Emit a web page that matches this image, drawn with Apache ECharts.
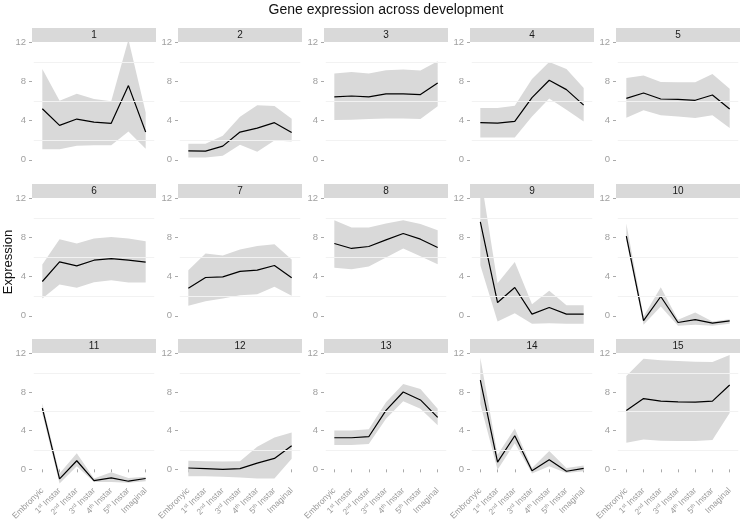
<!DOCTYPE html>
<html><head><meta charset="utf-8">
<script src="https://cdn.jsdelivr.net/npm/echarts@6/dist/echarts.min.js"></script>
<style>html,body{margin:0;padding:0;background:#fff}#c{width:742px;height:523px}</style>
</head><body><div id="c"></div>
<script>
const categories = ['Embronyic','1st Instar','2nd Instar','3rd Instar','4th Instar','5th Instar','Imaginal'];
const panelNames = ['1','2','3','4','5','6','7','8','9','10','11','12','13','14','15'];
const yTickValues = [0, 4, 8, 12];

const meanValues = [
  [5.23,3.52,4.17,3.86,3.73,7.59,2.84],
  [0.92,0.89,1.40,2.84,3.25,3.80,2.80],
  [6.43,6.53,6.43,6.74,6.74,6.67,7.86],
  [3.80,3.76,3.93,6.36,8.14,7.18,5.60],
  [6.29,6.84,6.22,6.19,6.09,6.63,5.20],
  [3.51,5.52,5.11,5.69,5.86,5.69,5.49],
  [2.83,3.92,3.99,4.55,4.67,5.15,3.89],
  [7.40,6.89,7.09,7.77,8.42,7.84,6.99],
  [9.61,1.36,2.90,0.17,0.85,0.17,0.17],
  [8.15,-0.48,1.98,-0.68,-0.38,-0.75,-0.51],
  [6.34,-0.99,0.89,-1.16,-0.89,-1.23,-0.95],
  [0.14,0.07,0.00,0.07,0.65,1.13,2.45],
  [3.27,3.27,3.38,6.10,8.01,7.19,5.39],
  [9.24,0.75,3.48,-0.14,0.99,-0.20,0.10],
  [6.10,7.33,7.06,6.99,6.96,7.06,8.73]
];
const upperValues = [
  [9.3,6.05,6.77,6.22,6.0,12.3,4.85],
  [1.64,1.64,2.46,4.4,5.57,5.5,4.2],
  [8.82,8.99,8.82,9.16,9.23,9.13,10.09],
  [5.3,5.3,5.54,8.27,10.0,9.3,7.35],
  [8.38,8.62,7.97,7.93,7.93,8.79,7.28],
  [5.25,7.84,7.4,7.91,8.05,7.91,7.64],
  [4.67,6.38,6.17,6.78,7.13,7.33,5.76],
  [9.78,9.03,9.03,9.44,9.78,9.38,8.76],
  [14.5,3.34,5.5,1.19,2.56,1.09,1.09],
  [9.44,-0.07,2.93,-0.41,0.34,-0.58,-0.34],
  [6.85,-0.44,1.67,-0.95,-0.31,-0.89,-0.78],
  [0.89,0.85,0.82,0.85,2.35,3.3,3.82],
  [4.02,4.02,4.16,6.95,8.83,8.32,6.27],
  [11.56,1.5,4.23,0.14,1.91,0.14,0.41],
  [9.68,11.46,11.29,11.22,11.15,11.11,11.83]
];
const lowerValues = [
  [1.09,1.09,1.44,1.5,1.5,2.9,1.13],
  [0.24,0.24,0.41,1.54,0.82,1.98,1.88],
  [4.07,4.1,4.17,4.24,4.24,4.17,5.47],
  [2.29,2.29,2.29,4.44,6.26,5.13,3.93],
  [4.31,5.06,4.55,4.44,4.27,4.55,3.25],
  [1.77,3.2,2.86,3.44,3.65,3.41,3.41],
  [1.02,1.5,1.77,2.11,2.22,2.97,2.05],
  [4.91,4.77,5.05,5.97,6.89,6.1,5.28],
  [5.18,-0.58,0.27,-0.82,-0.75,-0.82,-0.82],
  [7.7,-0.92,0.95,-1.02,-0.92,-1.02,-0.82],
  [5.76,-1.47,0.31,-1.3,-1.3,-1.4,-1.23],
  [-0.72,-0.72,-0.78,-0.85,-0.95,-0.95,1.09],
  [2.52,2.52,2.63,5.25,7.06,6.27,4.57],
  [6.78,-0.03,2.69,-0.44,0.31,-0.37,-0.2],
  [2.76,3.1,2.97,2.93,2.93,3.03,5.83]
];

const colX = [32, 178, 324, 470, 616];
const panelW = 124;
const stripTop = [28, 184, 339];
const stripH = 14;
const plotH = 133;
const unitW = panelW / 7.2;

const grids = [], xAxes = [], yAxes = [], series = [], graphics = [];
const FONT = 'Liberation Sans, Arial, sans-serif';

function fmtCat(v) {
  return v.replace(/^(\d)(st|nd|rd|th)/, '$1{s|$2}');
}

for (let k = 0; k < 15; k++) {
  const r = Math.floor(k / 5), c = k % 5;
  const left = colX[c] + 0.1 * unitW;
  const top = stripTop[r] + stripH;
  grids.push({ left: left, top: top, width: unitW * 7, height: plotH, containLabel: false });
  const isBottom = r === 2;
  xAxes.push({
    type: 'category', gridIndex: k, data: categories, boundaryGap: true,
    axisLine: { show: false },
    axisTick: { show: isBottom, alignWithLabel: true, length: 3, lineStyle: { color: '#aaaaaa' } },
    axisLabel: {
      show: isBottom, rotate: 45, margin: 5, interval: 0, fontSize: 8.5, color: '#9a9a9a', fontFamily: FONT,
      formatter: fmtCat,
      rich: { s: { fontSize: 5.5, color: '#9a9a9a', fontFamily: FONT, verticalAlign: 'top', padding: [0, 0, 4, 0] } }
    },
    splitLine: { show: false }
  });
  yAxes.push({
    type: 'value', gridIndex: k, min: -1.55, max: 12.05, offset: 0.1 * unitW,
    axisLine: { show: false },
    axisTick: { show: true, length: 3, customValues: yTickValues, lineStyle: { color: '#aaaaaa' } },
    axisLabel: { show: true, customValues: yTickValues, margin: 6, fontSize: 9.5, color: '#a0a0a0', fontFamily: FONT },
    splitLine: { show: false }
  });
  const diff = upperValues[k].map((u, i) => +(u - lowerValues[k][i]).toFixed(3));
  series.push({
    type: 'line', xAxisIndex: k, yAxisIndex: k, data: lowerValues[k], stack: 'band' + k, stackStrategy: 'all',
    symbol: 'none', silent: true, lineStyle: { opacity: 0, width: 0 }, z: 1,
    markLine: {
      silent: true, symbol: 'none', label: { show: false },
      lineStyle: { color: '#f2f2f2', width: 1, type: 'solid' },
      data: [{ yAxis: 2 }, { yAxis: 6 }, { yAxis: 10 }]
    }
  });
  series.push({
    type: 'line', xAxisIndex: k, yAxisIndex: k, data: diff, stack: 'band' + k, stackStrategy: 'all',
    symbol: 'none', silent: true, lineStyle: { opacity: 0, width: 0 },
    areaStyle: { color: '#d9d9d9', opacity: 1 }, z: 2
  });
  series.push({
    type: 'line', xAxisIndex: k, yAxisIndex: k, data: meanValues[k],
    symbol: 'none', silent: true, lineStyle: { color: '#000000', width: 1.2 }, z: 3
  });
  graphics.push({ type: 'rect', shape: { x: colX[c], y: stripTop[r], width: panelW, height: stripH }, style: { fill: '#d9d9d9' }, silent: true });
  graphics.push({ type: 'text', x: colX[c] + panelW / 2, y: stripTop[r] + stripH / 2 + 0.5,
    style: { text: panelNames[k], fontSize: 10, fill: '#1a1a1a', fontFamily: FONT, align: 'center', verticalAlign: 'middle' }, silent: true });
}

graphics.push({ type: 'text', x: 386, y: 10, style: { text: 'Gene expression across development', fontSize: 14, fill: '#111', fontFamily: FONT, align: 'center', verticalAlign: 'middle' } });
graphics.push({ type: 'text', x: 8, y: 262, rotation: Math.PI / 2,
  style: { text: 'Expression', fontSize: 13, fill: '#111', fontFamily: FONT, align: 'center', verticalAlign: 'middle' } });

const chart = echarts.init(document.getElementById('c'), null, { renderer: 'canvas' });
chart.setOption({
  animation: false,
  backgroundColor: '#ffffff',
  grid: grids, xAxis: xAxes, yAxis: yAxes, series: series, graphic: graphics
});
</script></body></html>
